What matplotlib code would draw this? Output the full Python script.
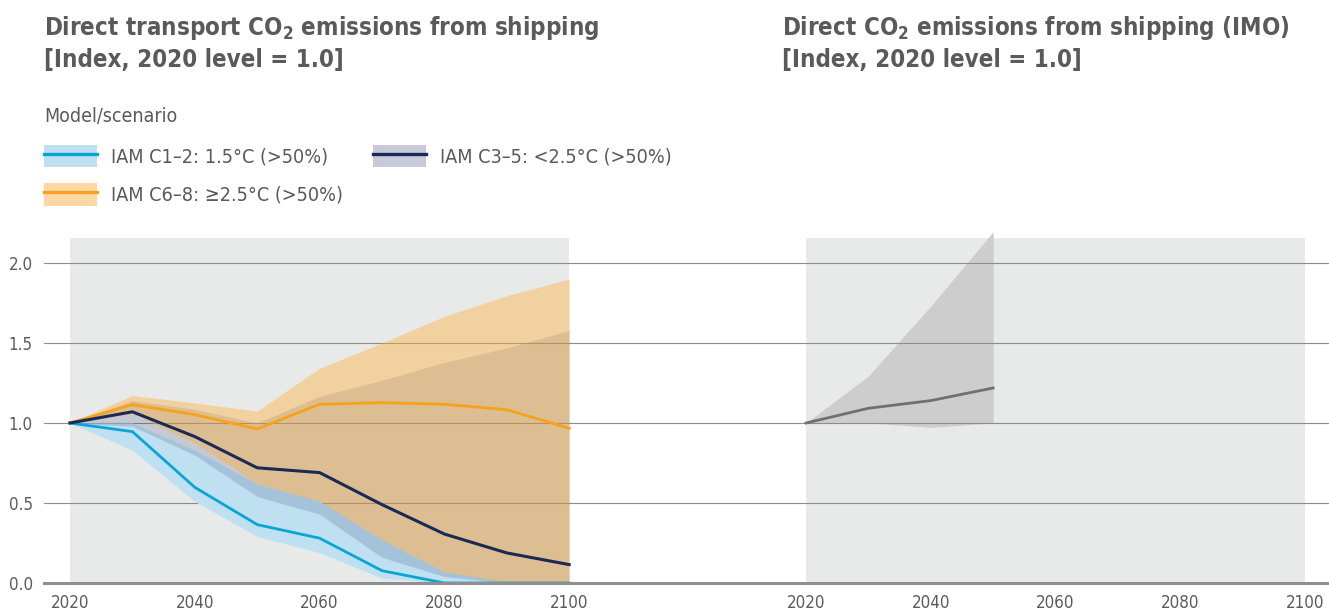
import numpy as np
import matplotlib
matplotlib.use("Agg")
import matplotlib.pyplot as plt
from matplotlib.patches import Patch
from matplotlib.lines import Line2D
from matplotlib.legend_handler import HandlerTuple

plt.rcParams['font.family'] = ['DejaVu Sans']
plt.rcParams['font.stretch'] = 'condensed'

# Data (index, 2020 = 1.0)
years = [2020, 2030, 2040, 2050, 2060, 2070, 2080, 2090, 2100]

c12_median = [1.0, 0.946, 0.598, 0.365, 0.28, 0.077, 0.0, 0.0, 0.0]
c12_low = [1.0, 0.83, 0.51, 0.29, 0.19, 0.03, 0.0, 0.0, 0.0]
c12_high = [1.0, 1.0, 0.83, 0.62, 0.51, 0.27, 0.07, 0.01, 0.0]

c35_median = [1.0, 1.07, 0.915, 0.72, 0.69, 0.49, 0.306, 0.188, 0.115]
c35_low = [1.0, 0.98, 0.80, 0.54, 0.43, 0.16, 0.04, 0.0, 0.0]
c35_high = [1.0, 1.14, 1.085, 1.0, 1.167, 1.267, 1.379, 1.469, 1.579]

c68_median = [1.0, 1.115, 1.052, 0.963, 1.117, 1.127, 1.117, 1.083, 0.967]
c68_low = [1.0, 1.06, 0.875, 0.62, 0.51, 0.27, 0.07, 0.0, 0.0]
c68_high = [1.0, 1.173, 1.125, 1.075, 1.342, 1.5, 1.667, 1.796, 1.9]

imo_years = [2020, 2030, 2040, 2050]
imo_median = [1.0, 1.092, 1.14, 1.219]
imo_low = [1.0, 1.0, 0.973, 1.0]
imo_high = [1.0, 1.294, 1.731, 2.196]

xticks = [2020, 2040, 2060, 2080, 2100]
yticks = [0.0, 0.5, 1.0, 1.5, 2.0]
labels = ["IAM C1\u20132: 1.5\u00b0C (>50%)",
          "IAM C3\u20135: <2.5\u00b0C (>50%)",
          "IAM C6\u20138: \u22652.5\u00b0C (>50%)"]

# Colours
bg = "#e8eae9"
grid_col = "#8c8c8c"
text_col = "#5a5a5a"
blue, blue_band = "#0aa6d3", "#bfe0f1"
navy, navy_band = "#1b2a55", "#2b3a6e"
orange, orange_band = "#f7a21b", "#ffaf3c"

W, H = 1329, 611
fig = plt.figure(figsize=(W / 100, H / 100), dpi=100)

px_per_year = 6.24
y0_px, px_per_unit = 583, 160
ytop = 2.24
split_px = 690


def make_axes(left_px, right_px, x2020_px):
    ax = fig.add_axes([left_px / W, (H - y0_px) / H, (right_px - left_px) / W,
                       ytop * px_per_unit / H])
    ax.set_xlim(2020 - (x2020_px - left_px) / px_per_year,
                2020 + (right_px - x2020_px) / px_per_year)
    ax.set_ylim(0, ytop)
    ax.patch.set_alpha(0)
    for s in ["top", "right", "left"]:
        ax.spines[s].set_visible(False)
    ax.spines["bottom"].set_color("#8f8f8f")
    ax.spines["bottom"].set_linewidth(2.2)
    ax.spines["bottom"].set_zorder(6)
    ax.set_xticks(xticks)
    ax.set_xticklabels([str(t) for t in xticks])
    ax.tick_params(axis="x", length=0, pad=8, labelsize=12.2, labelcolor=text_col)
    ax.fill_between([2020, 2100], 0, 2.156, color=bg, lw=0, zorder=0)
    return ax


ax1 = make_axes(44, split_px, 70)
ax2 = make_axes(split_px, W, 806)

# Left panel
for y in yticks[1:]:
    ax1.axhline(y, color=grid_col, lw=0.8, zorder=0.5)
ax1.fill_between(years, c12_low, c12_high, color=blue_band, lw=0, zorder=1)
ax1.fill_between(years, c35_low, c35_high, color=navy_band, alpha=0.18, lw=0, zorder=1.1)
ax1.fill_between(years, c68_low, c68_high, color=orange_band, alpha=0.42, lw=0, zorder=1.2)
ax1.plot(years, c12_median, color=blue, lw=2.0, zorder=3)
ax1.plot(years, c68_median, color=orange, lw=2.0, zorder=3)
ax1.plot(years, c35_median, color=navy, lw=2.2, zorder=3.1)
ax1.set_yticks(yticks)
ax1.set_yticklabels([f"{t:.1f}" for t in yticks])
ax1.tick_params(axis="y", length=0, pad=8, labelsize=12.2, labelcolor=text_col)

# Right panel
ax2.fill_between(imo_years, imo_low, imo_high, color="#cdcdcd", lw=0, zorder=0.5)
for y in yticks[1:]:
    ax2.axhline(y, color=grid_col, lw=0.8, zorder=1)
ax2.plot(imo_years, imo_median, color="#707070", lw=2.0, zorder=3)
ax2.set_yticks([])

# Titles
fig.text(44 / W, 1 - 14 / H,
         "Direct transport CO$_\\mathregular{2}$ emissions from shipping\n[Index, 2020 level = 1.0]",
         ha="left", va="top", fontsize=17.3, weight="bold", color=text_col, linespacing=1.33)
fig.text(782 / W, 1 - 14 / H,
         "Direct CO$_\\mathregular{2}$ emissions from shipping (IMO)\n[Index, 2020 level = 1.0]",
         ha="left", va="top", fontsize=17.3, weight="bold", color=text_col, linespacing=1.33)
fig.text(44 / W, 1 - 117 / H, "Model/scenario", ha="left", va="center",
         fontsize=14, color=text_col)

# Legend
fs = 14.2
handles = [
    (Patch(facecolor=blue_band, edgecolor="none"), Line2D([], [], color=blue, lw=2.4)),
    (Patch(facecolor="#fdd8a5", edgecolor="none"), Line2D([], [], color=orange, lw=2.4)),
    (Patch(facecolor="#c9cad9", edgecolor="none"), Line2D([], [], color=navy, lw=2.4)),
]
fs_px = fs * 100 / 72
leg = fig.legend(handles, [labels[0], labels[2], labels[1]], ncol=2,
                 loc="upper left", bbox_to_anchor=(44 / W, 1 - 145 / H),
                 frameon=False, borderpad=0, borderaxespad=0, fontsize=fs,
                 handlelength=53 / fs_px, handleheight=27 / fs_px,
                 handletextpad=14 / fs_px, columnspacing=30 / fs_px,
                 labelspacing=0.8,
                 handler_map={tuple: HandlerTuple(ndivide=1, pad=0)})
for t in leg.get_texts():
    t.set_color(text_col)

fig.savefig("out.png", dpi=100)
